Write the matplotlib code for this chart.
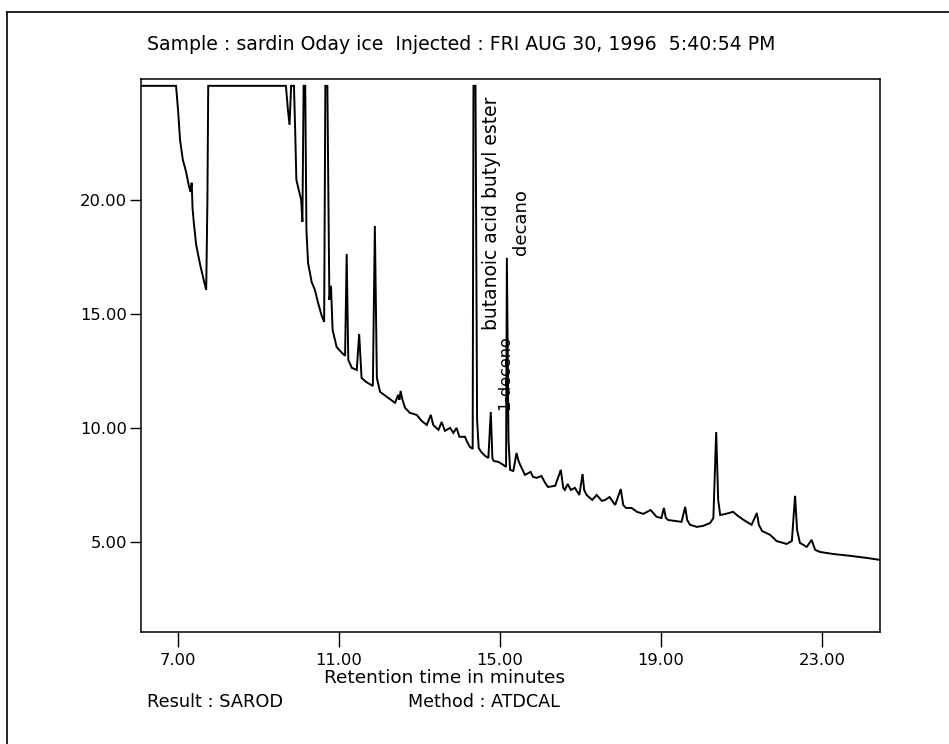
import matplotlib
matplotlib.use("Agg")
import matplotlib.pyplot as plt
from matplotlib.lines import Line2D
from matplotlib.ticker import FormatStrFormatter

# ---- data (retention time in minutes, detector signal) ----
time_min = [6.08, 6.95, 7.00, 7.05, 7.12, 7.20, 7.27, 7.31, 7.34, 7.36, 7.39, 7.45, 7.55, 7.65, 7.70,
            7.73, 7.75, 9.68, 9.73, 9.77, 9.81, 9.88, 9.91, 9.94, 10.01, 10.06, 10.09, 10.12, 10.16,
            10.19, 10.23, 10.32, 10.40, 10.48, 10.57, 10.63, 10.66, 10.71, 10.76, 10.80, 10.84, 10.94,
            11.05, 11.15, 11.19, 11.23, 11.32, 11.44, 11.50, 11.56, 11.67, 11.84, 11.89, 11.94, 12.02,
            12.22, 12.39, 12.47, 12.50, 12.53, 12.57, 12.64, 12.76, 12.93, 13.05, 13.18, 13.28, 13.34,
            13.47, 13.55, 13.63, 13.76, 13.84, 13.92, 13.99, 14.13, 14.17, 14.25, 14.32, 14.34, 14.39,
            14.43, 14.47, 14.53, 14.63, 14.71, 14.77, 14.81, 14.84, 14.96, 15.08, 15.15, 15.17, 15.21,
            15.25, 15.33, 15.41, 15.45, 15.50, 15.62, 15.76, 15.82, 15.91, 16.03, 16.12, 16.19, 16.37,
            16.51, 16.57, 16.61, 16.68, 16.76, 16.86, 16.97, 17.05, 17.09, 17.15, 17.29, 17.40, 17.53,
            17.61, 17.72, 17.86, 18.00, 18.06, 18.13, 18.27, 18.40, 18.56, 18.74, 18.89, 19.01, 19.07,
            19.12, 19.18, 19.35, 19.51, 19.60, 19.65, 19.72, 19.89, 20.04, 20.22, 20.30, 20.37, 20.42,
            20.47, 20.61, 20.79, 20.91, 21.09, 21.25, 21.38, 21.43, 21.51, 21.71, 21.87, 22.12, 22.25,
            22.33, 22.38, 22.45, 22.62, 22.74, 22.83, 22.95, 23.28, 23.70, 24.11, 24.44]
signal = [25.0, 25.0, 23.95, 22.63, 21.75, 21.23, 20.61, 20.35, 20.75, 19.65, 19.04, 18.03, 17.15, 16.40, 16.05,
          20.0, 25.0, 25.0, 23.95, 23.29, 25.0, 25.0, 23.07, 20.88, 20.35, 20.0, 19.04, 25.0, 25.0,
          18.68, 17.24, 16.40, 16.05, 15.48, 14.91, 14.65, 25.0, 25.0, 15.61, 16.23, 14.30, 13.55,
          13.33, 13.16, 17.63, 12.98, 12.63, 12.54, 14.12, 12.19, 12.02, 11.84, 18.86, 12.19, 11.58,
          11.32, 11.10, 11.45, 11.23, 11.62, 11.27, 10.88, 10.66, 10.57, 10.31, 10.13, 10.57, 10.13,
          9.91, 10.26, 9.87, 10.00, 9.78, 10.00, 9.61, 9.61, 9.43, 9.17, 9.08, 25.0, 25.0,
          10.35, 9.12, 8.95, 8.77, 8.68, 10.70, 8.68, 8.55, 8.51, 8.38, 8.29, 17.46, 9.47,
          8.16, 8.11, 8.90, 8.60, 8.38, 7.94, 8.07, 7.85, 7.81, 7.89, 7.59, 7.41, 7.46,
          8.16, 7.37, 7.28, 7.54, 7.28, 7.37, 7.06, 7.98, 7.28, 7.06, 6.84, 7.06, 6.80,
          6.84, 6.97, 6.62, 7.32, 6.62, 6.49, 6.49, 6.32, 6.23, 6.40, 6.10, 6.05, 6.49,
          6.05, 5.96, 5.92, 5.88, 6.54, 5.96, 5.75, 5.66, 5.70, 5.83, 6.05, 9.82, 6.84,
          6.18, 6.23, 6.32, 6.14, 5.92, 5.75, 6.27, 5.75, 5.48, 5.31, 5.04, 4.91, 5.04,
          7.02, 5.53, 4.96, 4.78, 5.09, 4.65, 4.56, 4.47, 4.39, 4.30, 4.21]

x_ticks = [7, 11, 15, 19, 23]
y_ticks = [5, 10, 15, 20]

peak_labels = ["butanoic acid butyl ester", "decano", "1-deceno"]
peak_label_x = [14.78, 15.52, 15.12]
peak_label_y = [14.30, 17.59, 10.79]
peak_label_size = [13.5, 13, 11.5]

title_text = "Sample : sardin Oday ice  Injected : FRI AUG 30, 1996  5:40:54 PM"
xlabel_text = "Retention time in minutes"
result_text = "Result : SAROD"
method_text = "Method : ATDCAL"

# ---- layout ----
W, H = 949, 744
plt.rcParams['font.family'] = ['DejaVu Sans']
fig = plt.figure(figsize=(W / 100, H / 100), dpi=100)

def fx(px):
    return px / W

def fy(py):
    return 1 - py / H

ax = fig.add_axes([fx(141), fy(632), (880 - 141) / W, (632 - 79) / H])
ax.plot(time_min, signal, color='black', lw=1.4, solid_joinstyle='miter')
ax.set_xlim(6.08, 24.44)
ax.set_ylim(1.05, 25.3)
ax.set_xticks(x_ticks)
ax.set_yticks(y_ticks)
ax.xaxis.set_major_formatter(FormatStrFormatter('%.2f'))
ax.yaxis.set_major_formatter(FormatStrFormatter('%.2f'))
ax.tick_params(axis='x', direction='out', length=11, width=1, pad=4, labelsize=11.8)
ax.tick_params(axis='y', direction='out', length=8, width=1, pad=2, labelsize=11.8)
for s in ax.spines.values():
    s.set_linewidth(1.1)

for lab, lx, ly, fs in zip(peak_labels, peak_label_x, peak_label_y, peak_label_size):
    ax.text(lx, ly, lab, rotation=90, ha='center', va='bottom', fontsize=fs)

fig.text(fx(147), fy(45), title_text, ha='left', va='center', fontsize=13.6)
fig.text(fx(444), fy(678), xlabel_text, ha='center', va='center', fontsize=13.3)
fig.text(fx(147), fy(702), result_text, ha='left', va='center', fontsize=12.8)
fig.text(fx(408), fy(702), method_text, ha='left', va='center', fontsize=12.6)

# outer page frame (top and left edges visible)
fig.add_artist(Line2D([fx(7), fx(949)], [fy(12), fy(12)], color='black', lw=1.2, transform=fig.transFigure))
fig.add_artist(Line2D([fx(7), fx(7)], [fy(12), fy(744)], color='black', lw=1.2, transform=fig.transFigure))

fig.savefig("out.png", dpi=100, facecolor='white')
